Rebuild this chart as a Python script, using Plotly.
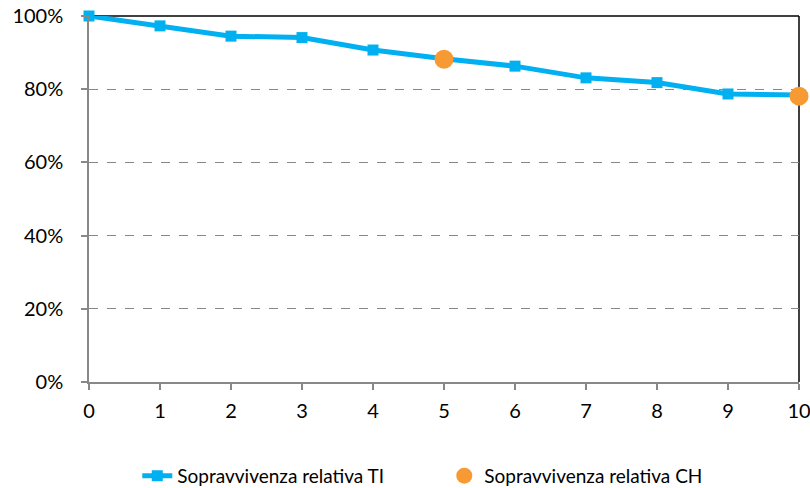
import plotly.graph_objects as go

# Data
years = [0, 1, 2, 3, 4, 5, 6, 7, 8, 9, 10]
surv_ti = [1.000, 0.973, 0.945, 0.941, 0.907, 0.883, 0.863, 0.831, 0.818, 0.787, 0.784]
years_ch = [5, 10]
surv_ch = [0.882, 0.781]

BLUE = "#00B0F0"
ORANGE = "#F79A33"
FONT = "Lato, 'Open Sans', sans-serif"

fig = go.Figure()
fig.add_trace(go.Scatter(
    x=years, y=surv_ti,
    mode="lines+markers",
    name="Sopravvivenza relativa TI",
    line=dict(color=BLUE, width=5),
    marker=dict(symbol="square", size=11, color=BLUE),
    cliponaxis=False,
))
fig.add_trace(go.Scatter(
    x=years_ch, y=surv_ch,
    mode="markers",
    name="Sopravvivenza relativa CH",
    marker=dict(symbol="circle", size=19, color=ORANGE),
    cliponaxis=False,
))

# plot-area frame: black top and right edges
fig.add_shape(type="line", xref="paper", yref="paper", x0=0, x1=1, y0=1, y1=1,
              line=dict(color="black", width=1.5), layer="below")
fig.add_shape(type="line", xref="paper", yref="paper", x0=1, x1=1, y0=0, y1=1,
              line=dict(color="black", width=1.5), layer="below")

fig.update_layout(
    width=810, height=488,
    plot_bgcolor="white",
    paper_bgcolor="white",
    font=dict(family=FONT, size=20, color="black"),
    margin=dict(l=89, r=11, t=16, b=106),
    xaxis=dict(
        range=[0, 10], tickmode="linear", dtick=1,
        showgrid=False, zeroline=False, automargin=False,
        showline=True, linecolor="#888888", linewidth=1.5,
        ticks="outside", ticklen=6, tickcolor="#888888", tickwidth=1.5,
        ticklabelstandoff=4, ticklabeloverflow="allow",
    ),
    yaxis=dict(
        range=[0, 1], tickmode="linear", dtick=0.2, tickformat=".0%",
        showgrid=True, gridcolor="#888888", griddash="dash", gridwidth=1,
        zeroline=False, automargin=False,
        showline=True, linecolor="#888888", linewidth=1.5,
        ticks="outside", ticklen=6, tickcolor="#888888", tickwidth=1.5,
        ticklabelstandoff=14,
    ),
    legend=dict(
        orientation="h",
        x=0.068, xanchor="left",
        yref="container", y=0.025, yanchor="middle",
        font=dict(size=19),
        entrywidth=262,
        bgcolor="rgba(0,0,0,0)",
    ),
    showlegend=True,
)

# drop the default page margin so the chart sits at the window's corner
fig.write_html("out.html", config={"displayModeBar": False},
               post_script="document.body.style.margin='0px';")
